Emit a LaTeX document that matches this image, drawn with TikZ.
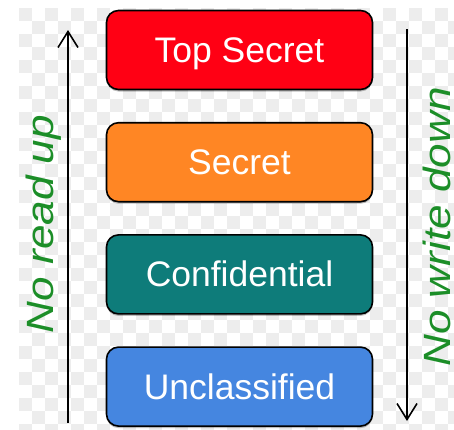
\documentclass[tikz,border=0pt]{standalone}
\usepackage{fontspec}
\setmainfont{Liberation Sans}
\usepackage{graphicx}
\usepackage{tikz}
\usetikzlibrary{positioning, arrows.meta, shadows}

\definecolor{topred}{RGB}{255,0,20}
\definecolor{secorange}{RGB}{255,134,36}
\definecolor{confteal}{RGB}{14,124,122}
\definecolor{unclblue}{RGB}{69,134,224}
\definecolor{rulegreen}{RGB}{28,142,40}
\definecolor{checkgray}{RGB}{237,237,237}

\newcommand{\widelabel}[1]{\scalebox{1.16}[1]{#1}}

\begin{document}
\begin{tikzpicture}[x=1pt, y=-1pt,
    levelnode/.style={rectangle, rounded corners=12pt, draw=black, line width=1.6pt, minimum width=266pt, minimum height=79pt, text=white, font=\fontsize{35.5}{40}\selectfont, text height=25pt, text depth=0pt, drop shadow={shadow xshift=0pt, shadow yshift=-2pt, opacity=0.25, fill=black}},
    rulearrow/.style={line width=1.6pt, -{Straight Barb[length=16pt, width=20pt, line width=1.6pt]}},
    rulelabel/.style={rotate=90, text=rulegreen, font=\fontsize{38}{44}\selectfont\itshape, text height=27pt, text depth=0pt, inner sep=0pt},
    ]
    \useasboundingbox (0,0) rectangle (454,429);
    %Background
    \begin{scope}
    \clip (19,8) rectangle (454,429);
    \foreach \i in {0,2,...,34} \foreach \j in {0,2,...,32} {
        \fill[checkgray] (19+13*\i,8+13*\j) rectangle +(13,13);
        \fill[checkgray] (32+13*\i,21+13*\j) rectangle +(13,13);
    }
    \end{scope}
    %Nodes
    \node[levelnode, fill=topred] (topsecret) at (239.5,50) {Top Secret};
    \node[levelnode, fill=secorange] (secret) [below=31.6pt of topsecret] {Secret};
    \node[levelnode, fill=confteal] (confidential) [below=31.6pt of secret] {Confidential};
    \node[levelnode, fill=unclblue] (unclassified) [below=31.6pt of confidential] {Unclassified};

    \node[rulelabel] (noreadup) at (40,224) {\widelabel{No read up}};
    \node[rulelabel] (nowritedown) at (437,227) {\widelabel{No write down}};

    \coordinate (readlow) at (68,423);
    \coordinate (readhigh) at (68,30);
    \coordinate (writehigh) at (407,29);
    \coordinate (writelow) at (407,421);

    \draw[rulearrow] (readlow)--(readhigh);
    \draw[rulearrow] (writehigh)--(writelow);
    \end{tikzpicture}
\end{document}
